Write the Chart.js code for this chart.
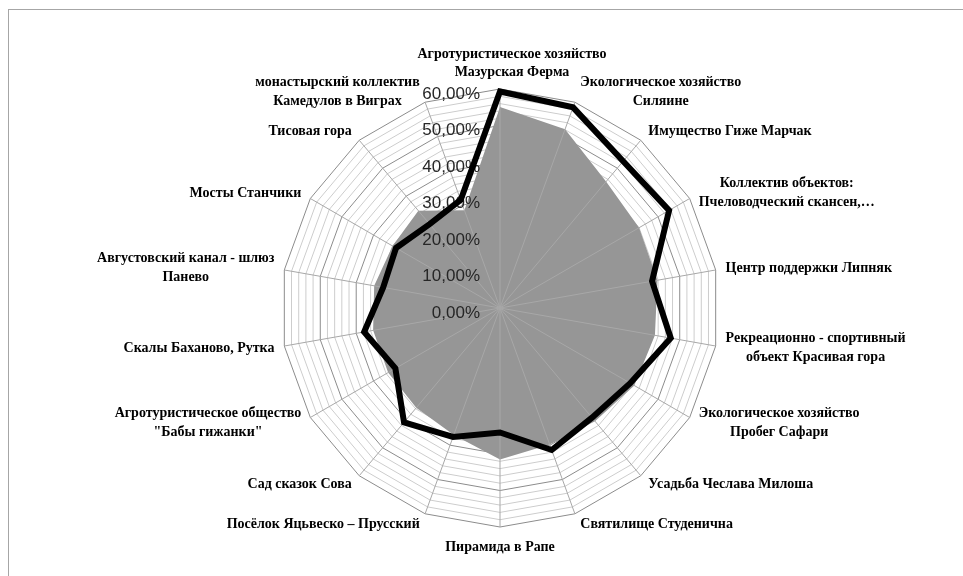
<!DOCTYPE html>
<html>
<head>
<meta charset="utf-8">
<script src="https://cdn.jsdelivr.net/npm/chart.js@4"></script>
<style>
  html, body { margin: 0; padding: 0; background: #fff; overflow: hidden; }
  #wrap { position: relative; width: 963px; height: 576px; overflow: hidden; }
  #frame { position: absolute; left: 8px; top: 9px; width: 980px; height: 600px; border-left: 1px solid #a6a6a6; border-top: 1px solid #a6a6a6; }
  canvas { position: absolute; left: 0; top: 0; }
</style>
</head>
<body>
<div id="wrap">
  <div id="frame"></div>
  <canvas id="radar" width="963" height="576"></canvas>
</div>
<script>
// categories, clockwise from the top
const categories = [
  ['Агротуристическое хозяйство', 'Мазурская Ферма'],
  ['Экологическое хозяйство', 'Силяине'],
  ['Имущество Гиже Марчак'],
  ['Коллектив объектов:', 'Пчеловодческий скансен,…'],
  ['Центр поддержки Липняк'],
  ['Рекреационно - спортивный', 'объект Красивая гора'],
  ['Экологическое хозяйство', 'Пробег Сафари'],
  ['Усадьба Чеслава Милоша'],
  ['Святилище Студенична'],
  ['Пирамида в Рапе'],
  ['Посёлок Яцьвеско – Прусский'],
  ['Сад сказок Сова'],
  ['Агротуристическое общество', '"Бабы гижанки"'],
  ['Скалы Баханово, Рутка'],
  ['Августовский канал - шлюз', 'Панево'],
  ['Мосты Станчики'],
  ['Тисовая гора'],
  ['монастырский коллектив', 'Камедулов в Виграх']
];

// black outline series (%)
const lineValues = [59.3, 58.5, 52.5, 53.5, 42.3, 47.5, 41.2, 39.2, 41.4, 34.1, 37.6, 40.9, 33.1, 37.8, 32.5, 32.9, 30.0, 31.5];
// grey filled series (%)
const areaValues = [55.1, 52.1, 45.2, 44.0, 43.8, 43.1, 42.5, 40.5, 39.8, 41.5, 37.0, 35.7, 35.4, 35.3, 35.0, 34.0, 34.8, 28.5];

// labelled ticks
const tickValues = [0, 10, 20, 30, 40, 50, 60];

const fmtPct = v => v.toFixed(2).replace('.', ',') + '%';

// spokes + tick labels go over the grey area but under the black line
const overlayPlugin = {
  id: 'overlay',
  afterDatasetDraw(chart, args) {
    if (args.index !== 1) return;
    const r = chart.scales.r;
    const ctx = chart.ctx;
    ctx.save();
    ctx.strokeStyle = '#a8a8a8';
    ctx.lineWidth = 1;
    for (let i = 0; i < categories.length; i++) {
      const p = r.getPointPosition(i, r.drawingArea);
      ctx.beginPath();
      ctx.moveTo(r.xCenter, r.yCenter);
      ctx.lineTo(p.x, p.y);
      ctx.stroke();
    }
    ctx.font = '17px "Liberation Sans"';
    ctx.fillStyle = '#262626';
    ctx.textAlign = 'right';
    ctx.textBaseline = 'middle';
    tickValues.forEach(v => {
      const y = r.yCenter - r.getDistanceFromCenterForValue(v) + 5;
      ctx.fillText(fmtPct(v), r.xCenter - 20, y);
    });
    ctx.restore();
  },
  afterDraw(chart) {
    const r = chart.scales.r;
    const ctx = chart.ctx;
    const lh = 18.5;
    ctx.save();
    ctx.font = 'bold 14px "Liberation Serif"';
    ctx.fillStyle = '#000';
    ctx.textAlign = 'center';
    ctx.textBaseline = 'middle';
    categories.forEach((lines, i) => {
      const a = r.getIndexAngle(i);
      const s = Math.sin(a), c = Math.cos(a);
      const p = r.getPointPosition(i, r.drawingArea + 7);
      const h = lines.length * lh;
      const w = Math.max(...lines.map(t => ctx.measureText(t).width));
      let cx, cy;
      if (Math.abs(s) < 0.01) {
        // excel pushes the top label a little to the right
        cx = c > 0 ? p.x + 12 : p.x;
        cy = c > 0 ? p.y - h / 2 : p.y + h / 2 + 4;
      } else {
        cx = s > 0 ? p.x + 3 + w / 2 : p.x - 3 - w / 2;
        cy = p.y - c * 4;
      }
      lines.forEach((t, k) => ctx.fillText(t, cx, cy - h / 2 + lh * (k + 0.5)));
    });
    ctx.restore();
  }
};

new Chart(document.getElementById('radar'), {
  type: 'radar',
  data: {
    labels: categories,
    datasets: [
      {
        data: lineValues,
        borderColor: '#000',
        borderWidth: 6,
        fill: false,
        pointRadius: 0,
        tension: 0
      },
      {
        data: areaValues,
        backgroundColor: '#969696',
        borderColor: '#969696',
        borderWidth: 0,
        fill: true,
        pointRadius: 0,
        tension: 0
      }
    ]
  },
  options: {
    responsive: false,
    animation: false,
    layout: { padding: { left: 37, right: 0, top: 89, bottom: 49 } },
    plugins: { legend: { display: false }, tooltip: { enabled: false } },
    scales: {
      r: {
        min: 0,
        max: 60,
        ticks: { stepSize: 2, display: false },
        pointLabels: { display: false },
        angleLines: { display: false },
        grid: {
          circular: false,
          lineWidth: 1,
          color: ctx => (ctx.tick.value % 10 === 0 ? '#8c8c8c' : '#cdcdcd')
        }
      }
    }
  },
  plugins: [overlayPlugin]
});
</script>
</body>
</html>
